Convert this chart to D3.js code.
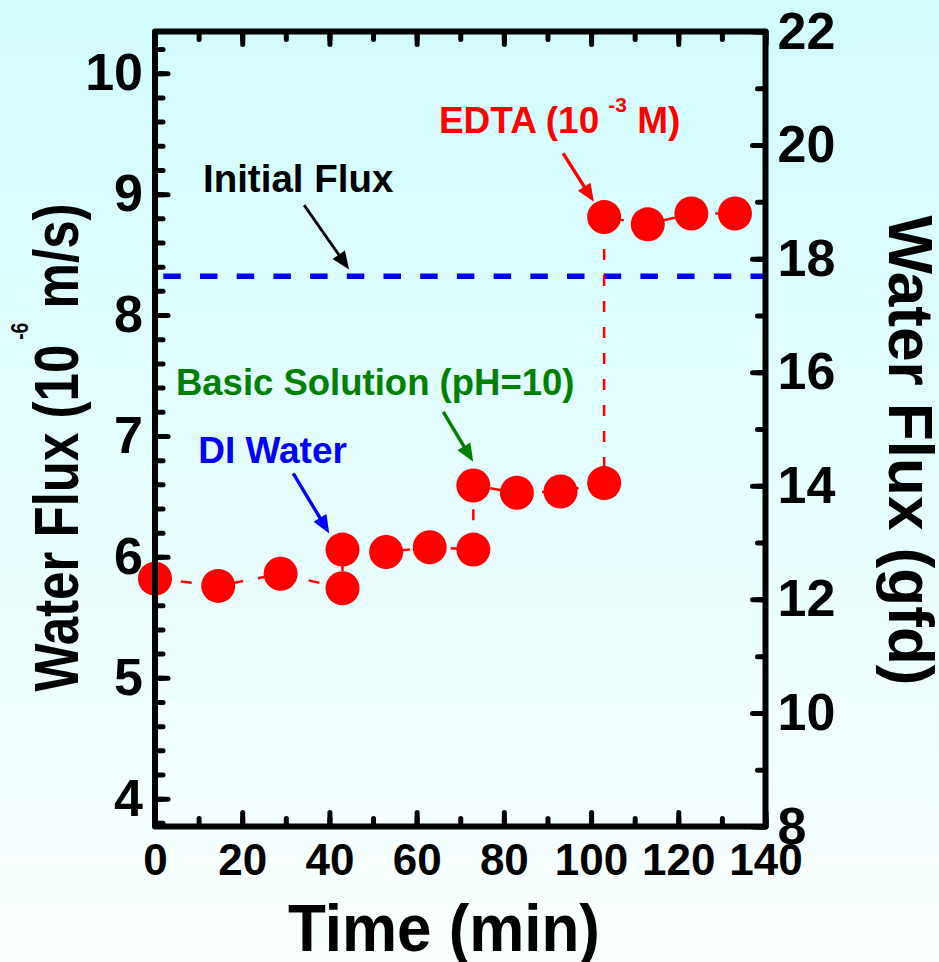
<!DOCTYPE html>
<html>
<head>
<meta charset="utf-8">
<script src="https://cdn.jsdelivr.net/npm/d3@7"></script>
<style>
  html, body { margin: 0; padding: 0; background: #ffffff; }
  svg { display: block; font-family: "Liberation Sans", Arial, sans-serif; font-weight: bold; }
</style>
</head>
<body>
<svg id="chart" width="939" height="962"></svg>
<script>
// Measured water flux over time (10^-6 m/s)
const timeMin = [0, 14.5, 28.8, 43, 43, 53, 63, 73, 73, 83, 93, 103, 103, 113, 123, 133];
const fluxSI  = [5.82, 5.76, 5.86, 5.74, 6.06, 6.04, 6.08, 6.06, 6.59, 6.53, 6.54, 6.61, 8.81, 8.75, 8.84, 8.84];
const initialFlux = 8.32;

// Axis ticks
const xTickValues     = [0, 20, 40, 60, 80, 100, 120, 140];
const xMinorValues    = d3.range(0, 141, 10);
const leftTickValues  = [4, 5, 6, 7, 8, 9, 10];
const leftMinorValues = d3.range(3.8, 10.31, 0.2);
const rightTickValues = [8, 10, 12, 14, 16, 18, 20, 22];
const rightMinorValues = d3.range(8, 22.01, 1);

// Annotations: label anchor and arrow, in data units (time, flux 10^-6 m/s)
const noteLabels = ["Initial Flux", "Basic Solution (pH=10)", "DI Water", "EDTA (10"];
const noteColors = ["#000000", "#008000", "#0000ff", "#ff0000"];
const noteTextPos = [[11.0, 9.017], [4.8, 7.337], [9.9, 6.775], [65.1, 9.502]];
const noteArrowFrom = [[34.2, 8.909], [66.1, 7.199], [31.7, 6.690], [93.6, 9.337]];
const noteArrowTo   = [[44.5, 8.377], [72.97, 6.786], [39.96, 6.194], [100.64, 8.936]];

const W = 939, H = 962;
const frame = { left: 155, right: 765.5, top: 31.5, bottom: 826.5 };

const svg = d3.select("#chart");

// background
const defs = svg.append("defs");
const grad = defs.append("linearGradient").attr("id", "bg")
  .attr("x1", 0).attr("y1", 0).attr("x2", 0).attr("y2", 1);
grad.append("stop").attr("offset", "0%").attr("stop-color", "#d0fcfc");
grad.append("stop").attr("offset", "100%").attr("stop-color", "#fbffff");
svg.append("rect").attr("width", W).attr("height", H).attr("fill", "url(#bg)");

const x  = d3.scaleLinear().domain([0, 140]).range([frame.left, frame.right]);
const yL = d3.scaleLinear().domain([3.77, 10.345]).range([frame.bottom, frame.top]);
const yR = d3.scaleLinear().domain([8, 22]).range([frame.bottom, frame.top]);

function styleAxis(g, fontSize) {
  g.select(".domain").remove();
  g.selectAll(".tick line").attr("stroke", "#000").attr("stroke-width", 5).attr("stroke-linecap", "round");
  g.selectAll(".tick text").attr("fill", "#000").attr("font-size", fontSize)
    .attr("font-family", "'Liberation Sans', Arial, sans-serif").attr("font-weight", "bold");
}

// minor ticks
svg.append("g").attr("transform", `translate(0,${frame.bottom})`)
  .call(d3.axisBottom(x).tickValues(xMinorValues).tickSize(-8).tickFormat(""))
  .call(g => styleAxis(g, 0));
svg.append("g").attr("transform", `translate(0,${frame.top})`)
  .call(d3.axisTop(x).tickValues(xMinorValues).tickSize(-8).tickFormat(""))
  .call(g => styleAxis(g, 0));
svg.append("g").attr("transform", `translate(${frame.left},0)`)
  .call(d3.axisLeft(yL).tickValues(leftMinorValues).tickSize(-8).tickFormat(""))
  .call(g => styleAxis(g, 0));
svg.append("g").attr("transform", `translate(${frame.right},0)`)
  .call(d3.axisRight(yR).tickValues(rightMinorValues).tickSize(-8).tickFormat(""))
  .call(g => styleAxis(g, 0));

// major ticks and labels
svg.append("g").attr("transform", `translate(0,${frame.bottom})`)
  .call(d3.axisBottom(x).tickValues(xTickValues).tickSize(-14).tickPadding(17).tickFormat(d3.format("d")))
  .call(g => styleAxis(g, 44));
svg.append("g").attr("transform", `translate(0,${frame.top})`)
  .call(d3.axisTop(x).tickValues(xTickValues).tickSize(-13).tickFormat(""))
  .call(g => styleAxis(g, 0));
svg.append("g").attr("transform", `translate(${frame.left},0)`)
  .call(d3.axisLeft(yL).tickValues(leftTickValues).tickSize(-13).tickPadding(12).tickFormat(d3.format("d")))
  .call(g => styleAxis(g, 52));
svg.append("g").attr("transform", `translate(${frame.right},0)`)
  .call(d3.axisRight(yR).tickValues(rightTickValues).tickSize(-13).tickPadding(12).tickFormat(d3.format("d")))
  .call(g => styleAxis(g, 52));

// initial flux reference line
svg.append("line")
  .attr("x1", x(0)).attr("x2", x(140))
  .attr("y1", yL(initialFlux)).attr("y2", yL(initialFlux))
  .attr("stroke", "#0000ff").attr("stroke-width", 5.5)
  .attr("stroke-dasharray", "17.5,19.2").attr("stroke-dashoffset", 28.4);

// connecting dashed line
const pts = timeMin.map((t, i) => [t, fluxSI[i]]);
svg.append("path")
  .attr("d", d3.line().x(d => x(d[0])).y(d => yL(d[1]))(pts))
  .attr("fill", "none").attr("stroke", "#ff0000").attr("stroke-width", 2.5)
  .attr("stroke-dasharray", "11,15");

// data points
svg.append("g").selectAll("circle").data(pts).join("circle")
  .attr("cx", d => x(d[0])).attr("cy", d => yL(d[1])).attr("r", 17)
  .attr("fill", "#ff0000");

// frame
svg.append("rect")
  .attr("x", frame.left).attr("y", frame.top)
  .attr("width", frame.right - frame.left).attr("height", frame.bottom - frame.top)
  .attr("fill", "none").attr("stroke", "#000").attr("stroke-width", 6)
  .attr("stroke-linejoin", "round");

// annotations
const noteFont = [38.5, 36.5, 37, 37];
const notes = svg.append("g");
noteLabels.forEach((label, i) => {
  const col = noteColors[i];
  const t = notes.append("text")
    .attr("x", x(noteTextPos[i][0])).attr("y", yL(noteTextPos[i][1]))
    .attr("fill", col).attr("font-size", noteFont[i]);
  t.append("tspan").text(label);
  if (i === 3) {
    t.append("tspan").attr("font-size", 21).attr("dx", 9).attr("dy", -21).text("-3");
    t.append("tspan").attr("dy", 21).text(" M)");
  }
  const x1 = x(noteArrowFrom[i][0]), y1 = yL(noteArrowFrom[i][1]);
  const x2 = x(noteArrowTo[i][0]),   y2 = yL(noteArrowTo[i][1]);
  const ang = Math.atan2(y2 - y1, x2 - x1);
  const headLen = 18, headHalf = 7.5;
  const bx = x2 - headLen * Math.cos(ang), by = y2 - headLen * Math.sin(ang);
  notes.append("line")
    .attr("x1", x1).attr("y1", y1).attr("x2", bx + 2 * Math.cos(ang)).attr("y2", by + 2 * Math.sin(ang))
    .attr("stroke", col).attr("stroke-width", i === 0 ? 2.8 : 3.4);
  const px = -Math.sin(ang), py = Math.cos(ang);
  notes.append("path")
    .attr("d", `M${x2},${y2}L${bx + px * headHalf},${by + py * headHalf}L${bx - px * headHalf},${by - py * headHalf}Z`)
    .attr("fill", col);
});

// axis titles
svg.append("text")
  .attr("x", 444).attr("y", 951).attr("text-anchor", "middle")
  .attr("font-size", 66).attr("textLength", 312).attr("lengthAdjust", "spacingAndGlyphs")
  .attr("fill", "#000").text("Time (min)");

const lt = svg.append("text")
  .attr("transform", "translate(78,447.5) rotate(-90)")
  .attr("text-anchor", "middle").attr("font-size", 63)
  .attr("textLength", 488).attr("lengthAdjust", "spacingAndGlyphs")
  .attr("fill", "#000");
lt.append("tspan").text("Water Flux (10");
lt.append("tspan").attr("font-size", 24).attr("dx", 6).attr("dy", -50).text("-6");
lt.append("tspan").attr("dy", 50).text(" m/s)");

svg.append("text")
  .attr("transform", "translate(889,450.5) rotate(90)")
  .attr("text-anchor", "middle").attr("font-size", 63)
  .attr("textLength", 470).attr("lengthAdjust", "spacingAndGlyphs")
  .attr("fill", "#000").text("Water Flux (gfd)");
</script>
</body>
</html>
